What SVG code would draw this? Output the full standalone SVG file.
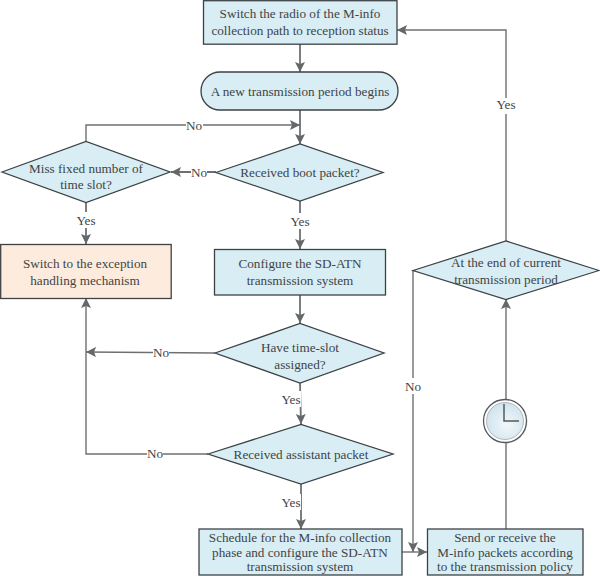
<svg xmlns="http://www.w3.org/2000/svg" width="600" height="576" viewBox="0 0 600 576">
<style>
text{font-family:"Liberation Serif","Times New Roman",serif;font-size:13.2px;fill:#3f4446;text-anchor:middle}
.n{fill:#d8edf4;stroke:#3c4245;stroke-width:1.3}
.e{fill:#fdecdd;stroke:#3c4245;stroke-width:1.3}
.c{fill:none;stroke:#6d7072;stroke-width:1.4}
.b{stroke-width:1.8}
.l{fill:#fff;stroke:none}
</style>
<defs>
<marker id="a" markerUnits="userSpaceOnUse" markerWidth="11" markerHeight="11" refX="10" refY="5" orient="auto"><path d="M0 0L10 5L0 10L2 5Z" fill="#65686a"/></marker>
<radialGradient id="cl" cx="0.55" cy="0.6" r="0.6"><stop offset="0" stop-color="#f2f8fb"/><stop offset="1" stop-color="#cfe3ec"/></radialGradient>
</defs>
<g id="connectors">
<path class="c b" d="M300 44V72" marker-end="url(#a)"/>
<path class="c b" d="M300 110V144" marker-end="url(#a)"/>
<path class="c" d="M86 141V125H300" marker-end="url(#a)"/>
<path class="c b" d="M216 172H171" marker-end="url(#a)"/>
<path class="c b" d="M86 202V244" marker-end="url(#a)"/>
<path class="c b" d="M300 201V249" marker-end="url(#a)"/>
<path class="c b" d="M300 295V323" marker-end="url(#a)"/>
<path class="c" d="M215 353L86 352" marker-end="url(#a)"/>
<path class="c b" d="M300 383L301 424" marker-end="url(#a)"/>
<path class="c" d="M208 454H86V298" marker-end="url(#a)"/>
<path class="c b" d="M301 484V529" marker-end="url(#a)"/>
<path class="c" d="M402 552H427" marker-end="url(#a)"/>
<path class="c" d="M413 270V552" marker-end="url(#a)"/>
<path class="c" d="M506 529V299" marker-end="url(#a)"/>
<path class="c" d="M506 241V30H397" marker-end="url(#a)"/>
<rect class="l" x="186" y="118" width="17" height="14"/>
<rect class="l" x="191" y="165" width="16" height="14"/>
<rect class="l" x="77" y="212" width="19" height="16"/>
<rect class="l" x="291" y="213" width="19" height="16"/>
<rect class="l" x="153" y="346" width="16" height="14"/>
<rect class="l" x="282" y="391" width="19" height="16"/>
<rect class="l" x="147" y="447" width="16" height="14"/>
<rect class="l" x="282" y="494" width="19" height="16"/>
<rect class="l" x="405" y="378" width="17" height="16"/>
<rect class="l" x="497" y="98" width="19" height="16"/>
</g>
<g id="labels">
<text x="194" y="130">No</text>
<text x="199" y="177">No</text>
<text x="86" y="224.500">Yes</text>
<text x="300" y="226">Yes</text>
<text x="161" y="357">No</text>
<text x="291" y="404">Yes</text>
<text x="155" y="458">No</text>
<text x="291" y="507">Yes</text>
<text x="413" y="391">No</text>
<text x="506" y="109">Yes</text>
</g>
<g id="n1"><rect class="n" x="203.500" y="0.700" width="193.500" height="43.500"/><text x="300" y="18">Switch the radio of the M-info</text><text x="300" y="35">collection path to reception status</text></g>
<g id="n2"><rect class="n" x="201" y="72" width="197" height="38" rx="19"/><text x="300" y="96">A new transmission period begins</text></g>
<g id="n3"><path class="n" d="M216 172.500L300 144L383 172.500L300 201Z"/><text x="300" y="177">Received boot packet?</text></g>
<g id="n4"><path class="n" d="M2 172L86 141.500L170 172L86 202.500Z"/><text x="86" y="172.500">Miss fixed number of</text><text x="86" y="189">time slot?</text></g>
<g id="n5"><rect class="e" x="0.700" y="244.500" width="170.500" height="54"/><text x="85" y="268">Switch to the exception</text><text x="85" y="285">handling mechanism</text></g>
<g id="n6"><rect class="n" x="214.500" y="249.500" width="171" height="45.500"/><text x="300" y="268">Configure the SD-ATN</text><text x="300" y="285">transmission system</text></g>
<g id="n7"><path class="n" d="M215 353L300 323.500L384 353L300 383Z"/><text x="300" y="352">Have time-slot</text><text x="300" y="368.500">assigned?</text></g>
<g id="n8"><path class="n" d="M208 454L301 424.500L393 454L301 484Z"/><text x="301" y="458.500">Received assistant packet</text></g>
<g id="n9"><rect class="n" x="199" y="529" width="203" height="46"/><text x="300" y="541.500">Schedule for the M-info collection</text><text x="300" y="556.500">phase and configure the SD-ATN</text><text x="300" y="571">transmission system</text></g>
<g id="n10"><rect class="n" x="427.500" y="529" width="155.500" height="46"/><text x="505" y="541.500">Send or receive the</text><text x="505" y="556.500">M-info packets according</text><text x="505" y="571">to the transmission policy</text></g>
<g id="n11"><path class="n" d="M413 270.500L506 241L599 270.500L506 299.500Z"/><text x="506" y="267">At the end of current</text><text x="506" y="283.500">transmission period</text></g>
<g id="clock"><circle cx="506" cy="422" r="21.500" fill="#d8d8d8" opacity=".6"/><circle cx="505" cy="421" r="21.500" fill="#fff" stroke="#55595c" stroke-width="1.300"/><circle cx="505" cy="421" r="18.500" fill="url(#cl)" stroke="#8a8f92" stroke-width=".6"/><path d="M504 404V421H519" fill="none" stroke="#55595c" stroke-width="1.500"/></g>
</svg>
